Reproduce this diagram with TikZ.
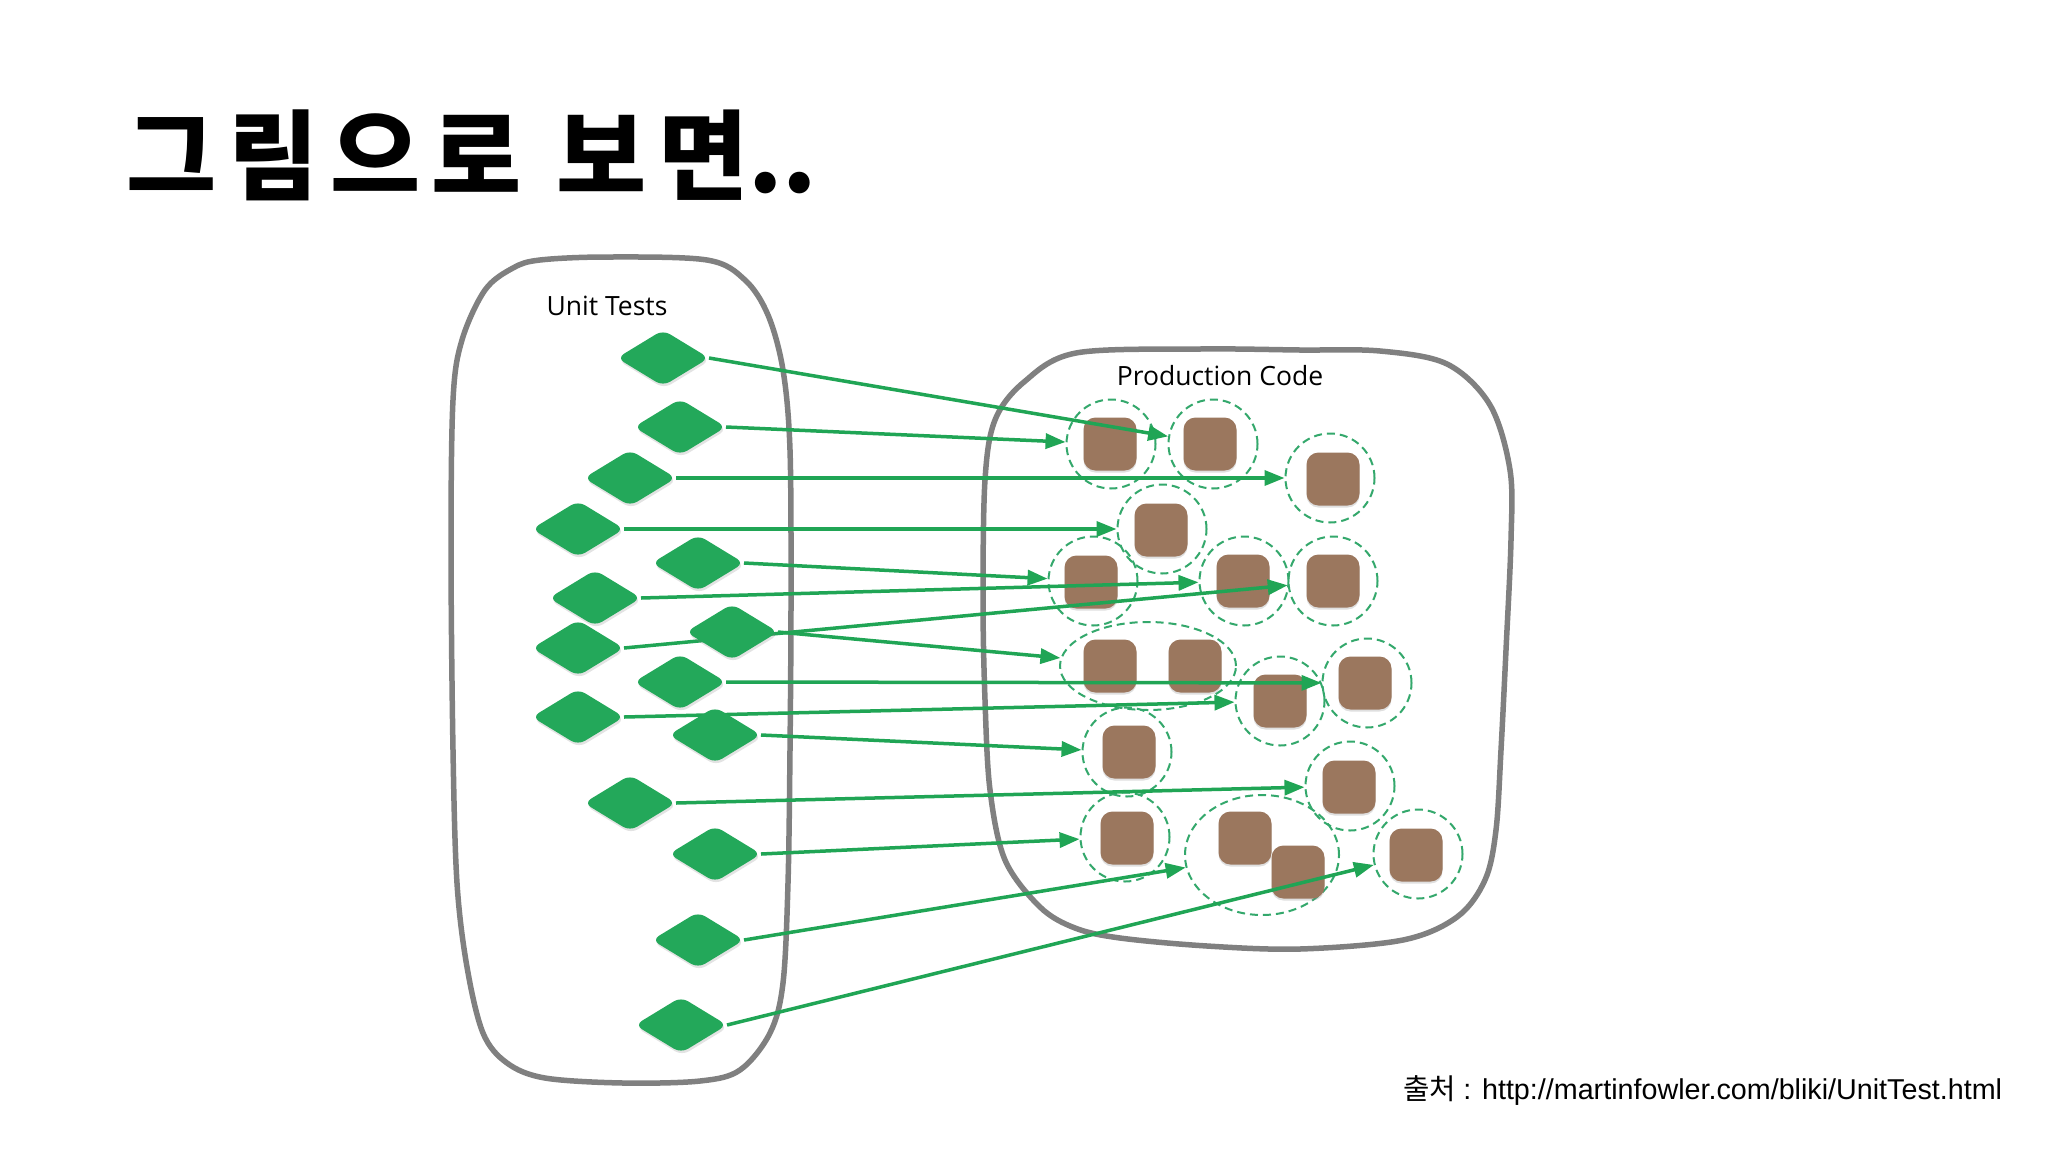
\documentclass[tikz,border=0pt]{standalone}
\usepackage{fontspec}
\setmainfont{Open Sans}
\newfontfamily\krfont{Noto Sans CJK KR}
\newfontfamily\krtitle{Noto Sans CJK KR}[LetterSpace=12]
\newfontfamily\arialfont{Liberation Sans}
\usetikzlibrary{shapes.geometric,arrows.meta,shadows}
\definecolor{dgreen}{RGB}{35,168,90}
\definecolor{agreen}{RGB}{32,165,85}
\definecolor{ringgreen}{RGB}{52,168,108}
\definecolor{brownsq}{RGB}{155,119,94}
\definecolor{cgray}{RGB}{128,128,128}
\pgfdeclarelayer{front}
\pgfsetlayers{main,front}
\tikzset{
  dia/.style={diamond, fill=dgreen, minimum width=92pt, minimum height=56pt, inner sep=0pt, outer sep=0pt, rounded corners=8pt,
    drop shadow={shadow xshift=1pt, shadow yshift=-2.5pt, opacity=0.22}},
  sq/.style={rectangle, fill=brownsq, minimum width=53pt, minimum height=53pt, inner sep=0pt, rounded corners=12pt,
    drop shadow={shadow xshift=0pt, shadow yshift=-2pt, opacity=0.25}},
  ring/.style={circle, draw=ringgreen, line width=2pt, dash pattern=on 8pt off 5pt, minimum size=89pt, inner sep=0pt},
  grp/.style={ellipse, draw=ringgreen, line width=2pt, dash pattern=on 8pt off 5pt, inner sep=0pt},
  arr/.style={draw=agreen, line width=3.5pt, -{Triangle[length=20pt,width=15pt]}},
  cont/.style={draw=cgray, line width=5.5pt, line join=round},
  lbl/.style={inner sep=0pt, font=\fontsize{26.5}{30}\selectfont},
}
\begin{document}
\begin{tikzpicture}[x=1pt,y=-1pt]
\useasboundingbox[fill=white] (0,0) rectangle (2048,1152);

% title and source
\node[anchor=base west, inner sep=0pt] (title) at (126,192) {\fontsize{98}{104}\selectfont{\krtitle\bfseries 그림으로 보면}{\krfont\bfseries ..}};
\node[anchor=base west, inner sep=0pt] (src) at (1403,1099) {\fontsize{28.7}{32}\selectfont{\krfont 출처} {\arialfont : http://martinfowler.com/bliki/UnitTest.html}};

% containers
\draw[cont] plot[smooth cycle, tension=0.55] coordinates {
 (540,260) (607,257) (707,260) (745,280) (768,315) (783,370) (790,450) (791,600) (790,750) (788,883) (783,983) (770,1033) (740,1070) (700,1081) (623,1083) (545,1078) (507,1063) (483,1033) (467,967) (457,883) (453,750) (451,550) (453,400) (462,340) (485,290) (513,268)};
\draw[cont] plot[smooth cycle, tension=0.55] coordinates {
 (1076,353) (1200,349) (1300,350) (1380,351) (1447,364) (1490,405) (1510,470) (1511,540) (1506,650) (1501,750) (1496,830) (1485,880) (1457,917) (1403,940) (1300,949) (1207,946) (1120,938) (1075,928) (1040,907) (1005,860) (990,790) (985,700) (983,600) (985,480) (995,420) (1024,382)};

\node[lbl] (ut) at (607,306) {Unit Tests};
\node[lbl] (pc) at (1220,376) {Production Code};

% diamonds (front layer)
\begin{pgfonlayer}{front}
\node[dia] (d1) at (663,358) {};
\node[dia] (d2) at (680,427) {};
\node[dia] (d3) at (630,478) {};
\node[dia] (d4) at (578,529) {};
\node[dia] (d5) at (698,563) {};
\node[dia] (d6) at (595,598) {};
\node[dia] (d7) at (732,632) {};
\node[dia] (d8) at (578,648) {};
\node[dia] (d9) at (680,682) {};
\node[dia] (d10) at (578,717) {};
\node[dia] (d11) at (715,735) {};
\node[dia] (d12) at (630,803) {};
\node[dia] (d13) at (715,854) {};
\node[dia] (d14) at (698,940) {};
\node[dia] (d15) at (681,1025) {};
\end{pgfonlayer}

% rings
\node[ring] (c1) at (1111,444) {};
\node[ring] (c2) at (1213,444) {};
\node[ring] (c3) at (1330,478) {};
\node[ring] (c4) at (1162,529) {};
\node[ring] (c5) at (1093,581) {};
\node[ring] (c6) at (1244,581) {};
\node[ring] (c7) at (1333,581) {};
\node[grp, minimum width=176pt, minimum height=88pt] (g1) at (1148,666) {};
\node[ring] (c10) at (1280,701) {};
\node[ring] (c11) at (1367,683) {};
\node[ring] (c12) at (1127,752) {};
\node[ring] (c13) at (1350,786) {};
\node[ring] (c14) at (1125,837) {};
\node[grp, minimum width=154pt, minimum height=120pt] (g2) at (1262,855) {};
\node[ring] (c17) at (1418,854) {};

% squares
\node[sq] (s1) at (1110,444) {};
\node[sq] (s2) at (1210,444) {};
\node[sq] (s3) at (1333,479) {};
\node[sq] (s4) at (1161,530) {};
\node[sq] (s5) at (1091,582) {};
\node[sq] (s6) at (1243,581) {};
\node[sq] (s7) at (1333,581) {};
\node[sq] (s8) at (1110,666) {};
\node[sq] (s9) at (1195,666) {};
\node[sq] (s10) at (1280,701) {};
\node[sq] (s11) at (1365,683) {};
\node[sq] (s12) at (1129,752) {};
\node[sq] (s13) at (1349,787) {};
\node[sq] (s14) at (1127,838) {};
\node[sq] (s15) at (1245,838) {};
\node[sq] (s16) at (1298,872) {};
\node[sq] (s17) at (1416,855) {};

% arrows
\draw[arr] (d1.east) -- (c2);
\draw[arr] (d2.east) -- (c1);
\draw[arr] (d3.east) -- (c3);
\draw[arr] (d4.east) -- (c4);
\draw[arr] (d5.east) -- (c5);
\draw[arr] (d6.east) -- (c6);
\draw[arr] (d8.east) -- (c7);
\draw[arr] (d7.east) -- (g1);
\draw[arr] (d9.east) -- (c11);
\draw[arr] (d10.east) -- (c10);
\draw[arr] (d11.east) -- (c12);
\draw[arr] (d12.east) -- (c13);
\draw[arr] (d13.east) -- (c14);
\draw[arr] (d14.east) -- (g2);
\draw[arr] (d15.east) -- (c17);
\end{tikzpicture}
\end{document}
